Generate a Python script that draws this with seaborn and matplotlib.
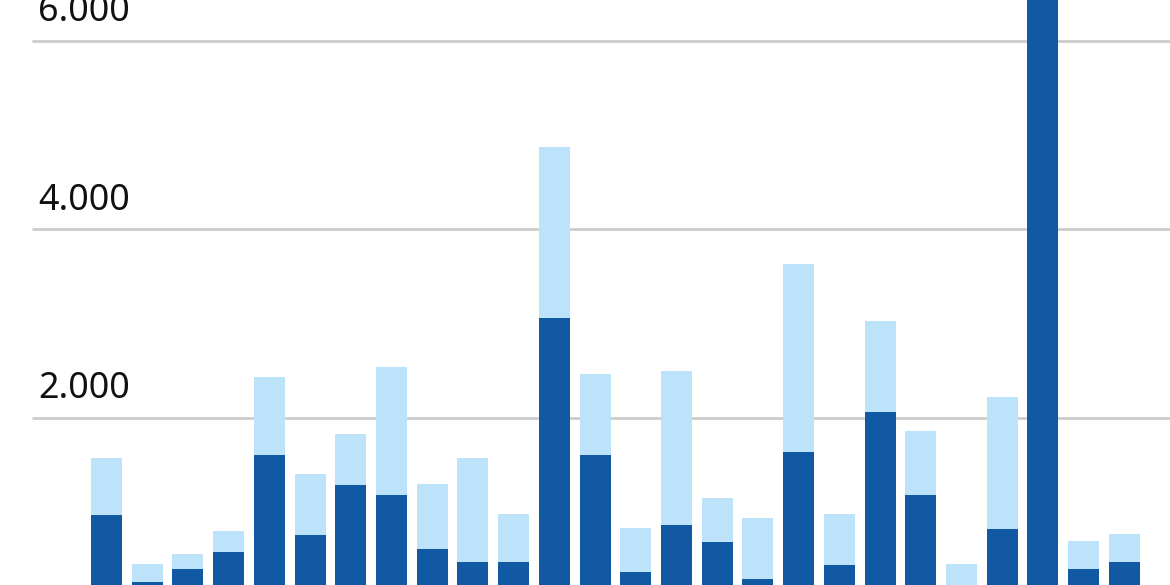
import pandas as pd
import matplotlib.pyplot as plt
import seaborn as sns

# bar values (bottom part of the axis is cropped away)
categories = [f"C{i + 1}" for i in range(26)]
dark_values = [971, 257, 398, 578, 1607, 759, 1289, 1183, 610, 472, 472, 3061, 1607,
               366, 865, 684, 292, 1639, 440, 2064, 1183, 150, 822, 7000, 398, 472]
light_values = [603, 191, 159, 220, 828, 644, 541, 1355, 690, 1100, 509, 1814, 860,
                467, 1634, 467, 647, 1995, 541, 965, 679, 301, 1401, 0, 297, 297]
tick_values = [2000, 4000, 6000]
tick_labels = ["2.000", "4.000", "6.000"]

df = pd.DataFrame({"cat": categories, "dark": dark_values, "light": light_values})
df["total"] = df["dark"] + df["light"]

sns.set_theme(style="white")
plt.rcParams["font.family"] = ["Noto Sans", "DejaVu Sans"]

fig = plt.figure(figsize=(11.7, 5.85), dpi=100)
ax = fig.add_axes([0, 0, 1, 1])

sns.barplot(data=df, x="cat", y="total", color="#bde3fa", saturation=1,
            width=0.76, linewidth=0, ax=ax, zorder=2)
sns.barplot(data=df, x="cat", y="dark", color="#1259a4", saturation=1,
            width=0.76, linewidth=0, ax=ax, zorder=3)

ax.set_xlim(-2.615, 26.12)
ax.set_ylim(228, 6435)

# gridlines start a little in from the left edge
ax.hlines(tick_values, -1.83, 26.12, color="#cccccc", lw=2, zorder=1)
for v, lab in zip(tick_values, tick_labels):
    ax.text(38 / 1170, v + 212, lab, transform=ax.get_yaxis_transform(),
            fontsize=25.8, color="#111111", ha="left", va="baseline")

ax.set_xticks([])
ax.set_yticks([])
ax.set_xlabel("")
ax.set_ylabel("")
sns.despine(ax=ax, left=True, bottom=True)

plt.savefig("out.png", dpi=100)
